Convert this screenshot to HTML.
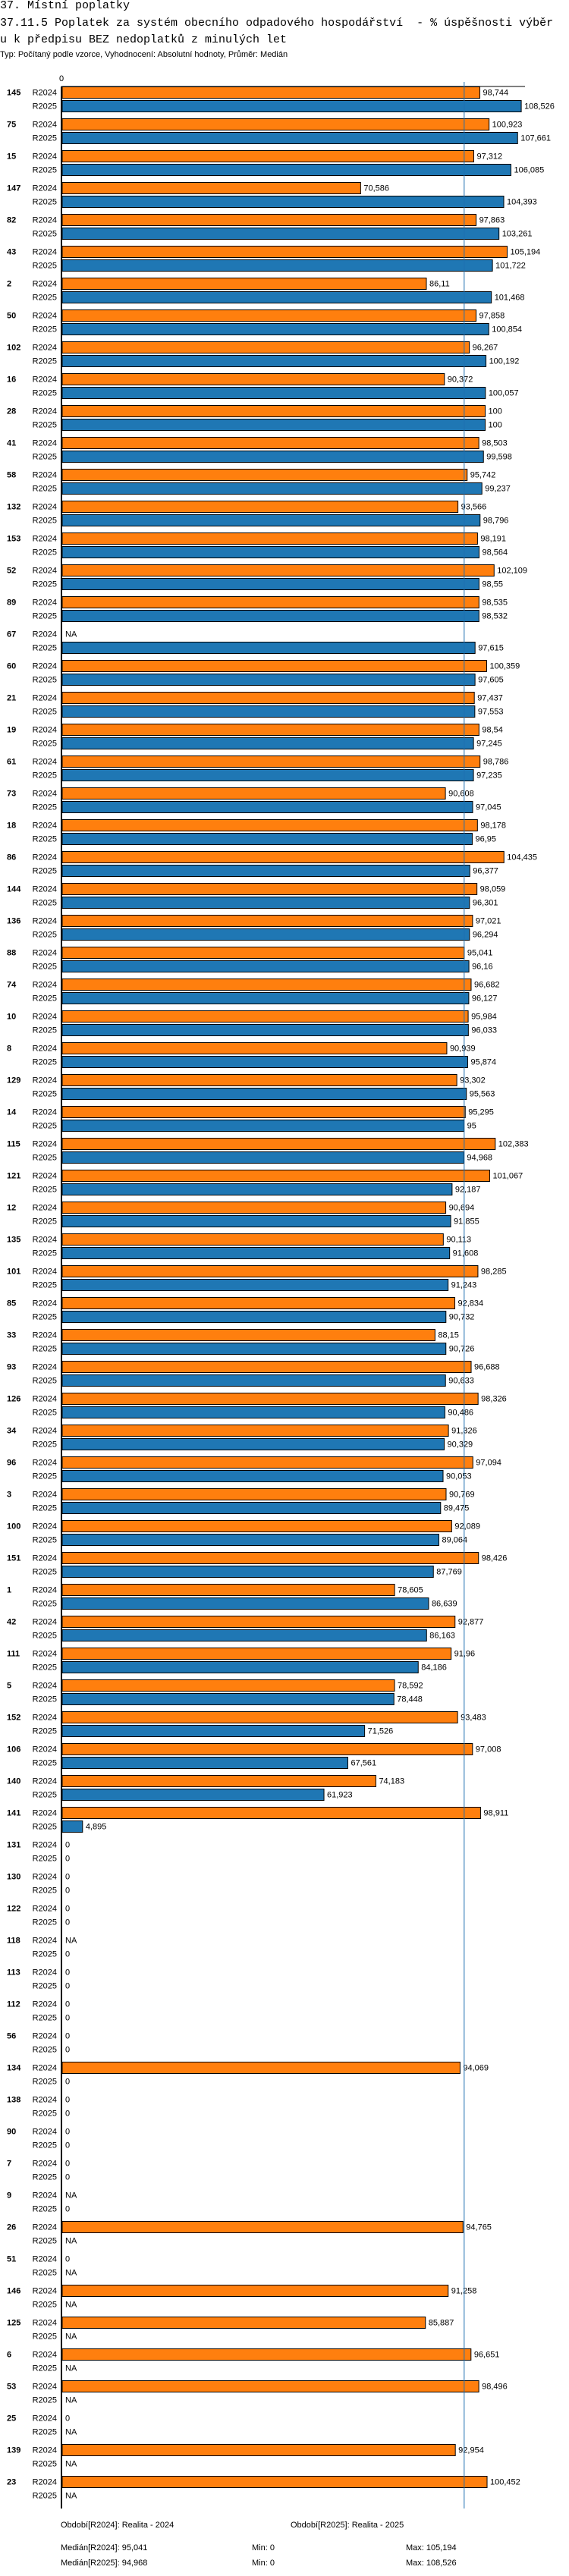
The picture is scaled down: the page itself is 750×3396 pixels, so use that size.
<!DOCTYPE html>
<html><head><meta charset="utf-8"><style>
body{margin:0;background:#fff;width:750px;height:3396px;overflow:hidden;}
.t{position:absolute;left:0;font-family:"Liberation Mono",monospace;font-size:15px;color:#000;white-space:pre;line-height:20px;}
.s{position:absolute;left:0;font-family:"Liberation Sans",sans-serif;font-size:11px;white-space:pre;}
svg{position:absolute;left:0;top:0;}
svg text{font-family:"Liberation Sans",sans-serif;font-size:11px;fill:#000;}
</style></head><body>
<div class="t" style="top:-2px">37. Místní poplatky</div>
<div class="t" style="top:21px">37.11.5 Poplatek za systém obecního odpadového hospodářství  - % úspěšnosti výběr</div>
<div class="t" style="top:43px">u k předpisu BEZ nedoplatků z minulých let</div>
<div class="s" style="top:66px">Typ: Počítaný podle vzorce, Vyhodnocení: Absolutní hodnoty, Průměr: Medián</div>
<svg id="chart" width="750" height="3396"></svg>
<script>
const categories=["145","75","15","147","82","43","2","50","102","16","28","41","58","132","153","52","89","67","60","21","19","61","73","18","86","144","136","88","74","10","8","129","14","115","121","12","135","101","85","33","93","126","34","96","3","100","151","1","42","111","5","152","106","140","141","131","130","122","118","113","112","56","134","138","90","7","9","26","51","146","125","6","53","25","139","23"];
const r2024=[98.744,100.923,97.312,70.586,97.863,105.194,86.11,97.858,96.267,90.372,100,98.503,95.742,93.566,98.191,102.109,98.535,null,100.359,97.437,98.54,98.786,90.608,98.178,104.435,98.059,97.021,95.041,96.682,95.984,90.939,93.302,95.295,102.383,101.067,90.694,90.113,98.285,92.834,88.15,96.688,98.326,91.326,97.094,90.769,92.089,98.426,78.605,92.877,91.96,78.592,93.483,97.008,74.183,98.911,0,0,0,null,0,0,0,94.069,0,0,0,null,94.765,0,91.258,85.887,96.651,98.496,0,92.954,100.452];
const r2025=[108.526,107.661,106.085,104.393,103.261,101.722,101.468,100.854,100.192,100.057,100,99.598,99.237,98.796,98.564,98.55,98.532,97.615,97.605,97.553,97.245,97.235,97.045,96.95,96.377,96.301,96.294,96.16,96.127,96.033,95.874,95.563,95,94.968,92.187,91.855,91.608,91.243,90.732,90.726,90.633,90.486,90.329,90.053,89.475,89.064,87.769,86.639,86.163,84.186,78.448,71.526,67.561,61.923,4.895,0,0,0,0,0,0,0,0,0,0,0,0,null,null,null,null,null,null,null,null,null];
const seriesNames=["R2024","R2025"];
const medians=[95.041,94.968];
const svg=document.getElementById('chart');
const NS='http://www.w3.org/2000/svg';
const x0=81.5, k=5.58, top0=114, pitch=42, bh=15;
const xs=v=>x0+v*k;
function mk(t,a){const e=document.createElementNS(NS,t);for(const n in a)e.setAttribute(n,a[n]);svg.appendChild(e);return e;}
function fmt(v){return String(v).replace('.',',');}
const bottom=top0+categories.length*pitch+1;
let e;
e=mk('line',{x1:81,y1:top0,x2:692,y2:top0,stroke:'#000','stroke-width':1});


e=mk('text',{x:81,y:107,'text-anchor':'middle'});e.textContent='0';


categories.forEach((c,i)=>{
  const y=top0+i*pitch;
  let t=mk('text',{x:9,y:y+11.5,'font-weight':'bold'});t.textContent=c;
  
  
  [r2024[i],r2025[i]].forEach((v,j)=>{
    const by=y+j*18;
    let l=mk('text',{x:75,y:by+11.5,'text-anchor':'end'});l.textContent=seriesNames[j];
    
    
    let vx=86;
    if(v!==null&&v>0){
      const r=mk('rect',{x:82,y:by+0.5,width:xs(v)-82,height:bh,fill:j?'#1f77b4':'#ff7f0e',stroke:'#000','stroke-width':1});
      
      
      vx=xs(v)+4;
    }
    let vt=mk('text',{x:vx,y:by+11.5});vt.textContent=v===null?'NA':fmt(v);
    
    
  });
});
e=mk('line',{x1:xs(medians[0]),y1:108,x2:xs(medians[0]),y2:bottom,stroke:'#1f6fb0','stroke-width':1});


e=mk('line',{x1:81,y1:top0,x2:81,y2:bottom,stroke:'#000','stroke-width':2});


const foot=[[80,3332,'Období[R2024]: Realita - 2024'],[383,3332,'Období[R2025]: Realita - 2025'],[80,3362,'Medián[R2024]: 95,041'],[332,3362,'Min: 0'],[535,3362,'Max: 105,194'],[80,3382,'Medián[R2025]: 94,968'],[332,3382,'Min: 0'],[535,3382,'Max: 108,526']];
foot.forEach(f=>{const t=mk('text',{x:f[0],y:f[1]});t.textContent=f[2];

});
</script>
</body></html>
